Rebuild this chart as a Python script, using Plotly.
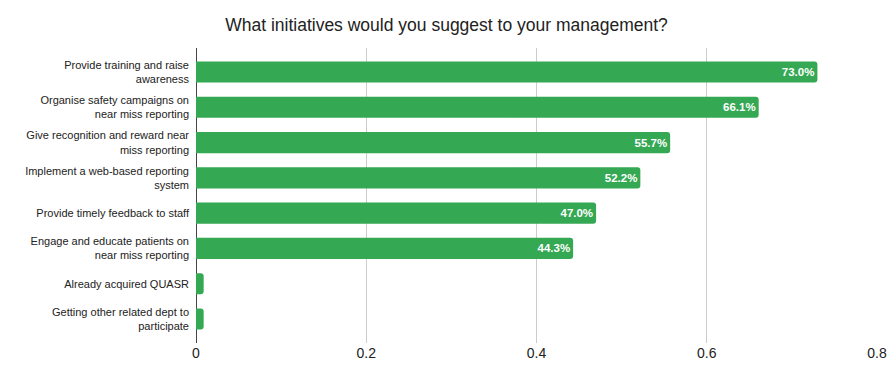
import plotly.graph_objects as go

categories = [
    "Provide training and raise<br>awareness",
    "Organise safety campaigns on<br>near miss reporting",
    "Give recognition and reward near<br>miss reporting",
    "Implement a web-based reporting<br>system",
    "Provide timely feedback to staff",
    "Engage and educate patients on<br>near miss reporting",
    "Already acquired QUASR",
    "Getting other related dept to<br>participate",
]
values = [0.730, 0.661, 0.557, 0.522, 0.470, 0.443, 0.009, 0.009]
labels = ["73.0%", "66.1%", "55.7%", "52.2%", "47.0%", "44.3%", "", ""]
x_ticks = [0, 0.2, 0.4, 0.6, 0.8]

fig = go.Figure(go.Bar(
    x=values, y=categories, orientation="h",
    marker=dict(color="#34a853", line=dict(width=0)),
    text=labels, textposition="inside", insidetextanchor="end",
    textfont=dict(family="Liberation Sans, Arial", size=11.5, color="white", weight="bold"),
    textangle=0,
    hoverinfo="x+y",
))

fig.update_layout(
    width=893, height=382,
    margin=dict(l=196, r=16, t=48, b=39),
    paper_bgcolor="white", plot_bgcolor="white",
    title=dict(text="What initiatives would you suggest to your management?",
               x=0.5, xanchor="center", y=0.935, yanchor="middle",
               font=dict(family="Liberation Sans, Arial", size=17.5, color="#222222")),
    bargap=0.4,
    barcornerradius=3,
    uniformtext=dict(mode=False),
    showlegend=False,
)
fig.update_xaxes(
    range=[0, 0.8], tickvals=x_ticks, ticktext=[str(v) for v in x_ticks],
    showgrid=True, gridcolor="#cccccc", gridwidth=1,
    zeroline=True, zerolinecolor="#444444", zerolinewidth=1,
    tickfont=dict(family="Liberation Sans, Arial", size=14, color="#222222"),
    showline=False, ticks="", automargin=False,
)
fig.update_yaxes(
    categoryorder="array", categoryarray=categories, autorange=False,
    range=[7.68, -0.68],
    tickfont=dict(family="Liberation Sans, Arial", size=11, color="#222222"),
    showgrid=False, ticks="", ticklabelstandoff=6, automargin=False,
)

fig.write_html("out.html",
               config={"displayModeBar": False},
               post_script="document.body.style.margin='0';document.body.style.padding='0';")
